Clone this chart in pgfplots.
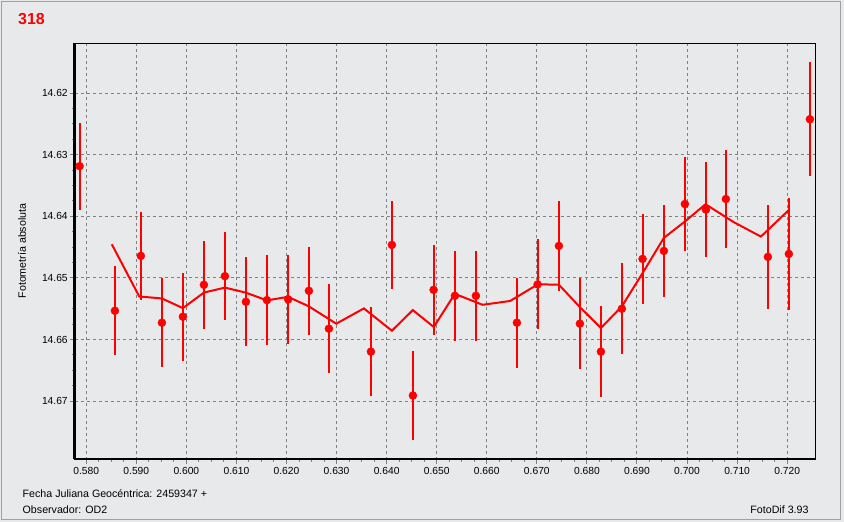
\documentclass[border=0pt]{standalone}
\usepackage{pgfplots}
\usepackage{pgfplotstable}
\pgfplotsset{compat=1.18}
\usepackage{fontspec}
\setmainfont{Liberation Sans}
\definecolor{bg}{RGB}{232,233,235}
\definecolor{gridgray}{RGB}{128,128,128}
\definecolor{framegray}{RGB}{160,160,160}

\pgfplotstableread{
x y e
0.57868 14.63185 0.00704
0.58573 14.65533 0.00726
0.59092 14.64642 0.00716
0.59512 14.65727 0.00724
0.59931 14.65630 0.00718
0.60351 14.65112 0.00718
0.60770 14.64971 0.00718
0.61190 14.65387 0.00726
0.61609 14.65360 0.00726
0.62034 14.65348 0.00726
0.62448 14.65209 0.00718
0.62847 14.65824 0.00718
0.63686 14.66197 0.00726
0.64105 14.64464 0.00718
0.64525 14.66909 0.00726
0.64938 14.65193 0.00729
0.65364 14.65290 0.00726
0.65783 14.65290 0.00731
0.66602 14.65727 0.00732
0.67015 14.65105 0.00732
0.67441 14.64480 0.00734
0.67860 14.65743 0.00742
0.68280 14.66197 0.00737
0.68699 14.65500 0.00740
0.69112 14.64691 0.00734
0.69538 14.64561 0.00742
0.69957 14.63800 0.00756
0.70377 14.63891 0.00772
0.70776 14.63719 0.00799
0.71615 14.64658 0.00848
0.72034 14.64610 0.00913
0.72454 14.62423 0.00929
}\points

\pgfplotstableread{
x y
0.58511 14.64453
0.59059 14.65301
0.59512 14.65333
0.59931 14.65490
0.60351 14.65238
0.60770 14.65157
0.61190 14.65239
0.61611 14.65365
0.62030 14.65306
0.62443 14.65460
0.62994 14.65743
0.63546 14.65495
0.64105 14.65857
0.64523 14.65522
0.64942 14.65797
0.65362 14.65258
0.65916 14.65436
0.66467 14.65374
0.67019 14.65104
0.67439 14.65109
0.67860 14.65473
0.68280 14.65813
0.68697 14.65463
0.69116 14.64917
0.69536 14.64351
0.69957 14.64084
0.70370 14.63803
0.70923 14.64089
0.71475 14.64329
0.72034 14.63897
}\smooth

\begin{document}
\begin{tikzpicture}
\useasboundingbox (0,0) rectangle (844bp,522bp);
\fill[bg] (0,0) rectangle (844bp,522bp);
\draw[framegray, line width=1bp] (1.5bp,2.5bp) rectangle (840.5bp,520bp);

\begin{axis}[
  at={(74.7bp,63bp)}, anchor=south west,
  scale only axis, width=741bp, height=415.7bp,
  xmin=0.5777, xmax=0.7257,
  ymin=14.6119, ymax=14.6794, y dir=reverse,
  clip=false,
  axis line style={black, line width=1bp},
  xtick={0.58,0.59,0.60,0.61,0.62,0.63,0.64,0.65,0.66,0.67,0.68,0.69,0.70,0.71,0.72},
  ytick={14.62,14.63,14.64,14.65,14.66,14.67},
  minor x tick num=3, minor y tick num=3,
  xtick pos=bottom, ytick pos=left,
  tick align=outside,
  major tick length=5bp, minor tick length=3bp,
  tick style={gridgray, line width=1bp},
  grid=major,
  major grid style={gridgray, dash pattern=on 3bp off 3bp, line width=1bp},
  xticklabel style={font=\fontsize{10.3}{12}\selectfont, /pgf/number format/.cd, fixed, fixed zerofill, precision=3, assume math mode=true},
  yticklabel style={font=\fontsize{10.3}{12}\selectfont, xshift=1.5bp, /pgf/number format/.cd, fixed, fixed zerofill, precision=2, assume math mode=true},
  scaled ticks=false,
]
\addplot[red, draw=red, only marks, mark=none,
  error bars/.cd, y dir=both, y explicit,
  error bar style={solid, draw=red, color=red, line width=2bp, line cap=butt}, error mark=none]
  table[x=x, y=y, y error=e] {\points};
\addplot[red, line width=2bp, no marks] table[x=x, y=y] {\smooth};
\addplot[only marks, mark=*, mark size=4bp, draw=red, fill=red]
  table[x=x, y=y] {\points};
\draw[black, line width=2.5bp] (axis description cs:0,0) -- (axis description cs:0,1);
\draw[black, line width=2.5bp] (axis description cs:0,0) -- (axis description cs:1,0);
\end{axis}

\node[rotate=90, font=\fontsize{10.7}{12}\selectfont] at (22bp,271bp) {Fotometría absoluta};
\node[anchor=west, text=red, font=\fontsize{16}{18}\selectfont\bfseries, inner sep=0pt] at (18bp,503bp) {318};
\node[anchor=west, font=\fontsize{10.7}{12}\selectfont, inner sep=0pt] at (22.5bp,28.7bp) {Fecha Juliana Geocéntrica: 2459347 +};
\node[anchor=west, font=\fontsize{10.7}{12}\selectfont, inner sep=0pt] at (22.5bp,12bp) {Observador: OD2};
\node[anchor=east, font=\fontsize{10.7}{12}\selectfont, inner sep=0pt] at (808.7bp,12bp) {FotoDif 3.93};
\end{tikzpicture}
\end{document}
